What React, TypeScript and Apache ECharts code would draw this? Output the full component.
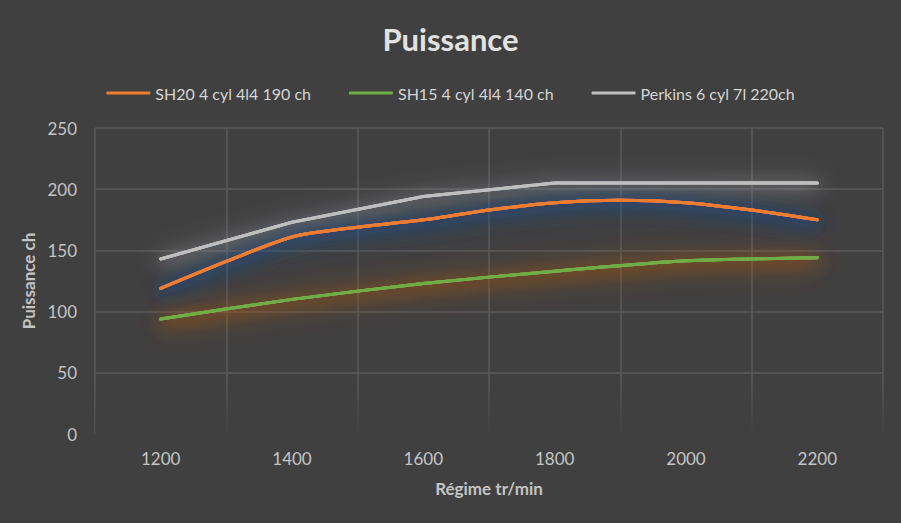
import { useEffect, useRef } from 'react';
import * as echarts from 'echarts';

// axis steps: 100 tr/min per slot, labels every 200, grid lines between
const rpmSteps = [1100, 1200, 1300, 1400, 1500, 1600, 1700, 1800, 1900, 2000, 2100, 2200, 2300];

const sh20Rpm = [1200, 1300, 1400, 1500, 1600, 1700, 1800, 1900, 2000, 2100, 2200];
const sh20 = [119, 141, 161, 169, 175, 183, 189, 191, 189, 183, 175];

const rpm = [1200, 1400, 1600, 1800, 2000, 2200];
const sh15 = [94, 110, 123, 133, 141.5, 144];
const perkins = [143, 173, 194, 205, 205, 205];

const seriesNames = ['SH20 4 cyl 4l4 190 ch', 'SH15 4 cyl 4l4 140 ch', 'Perkins 6 cyl 7l 220ch'];
const yTicks = [0, 50, 100, 150, 200, 250];

const FONT = 'Lato, "Open Sans", sans-serif';

// put values on the 100-step axis, empty where no measure
const onSteps = (xs: number[], values: number[]) =>
  rpmSteps.map((step) => {
    const i = xs.indexOf(step);
    return i >= 0 ? values[i] : null;
  });

export default function App() {
  const chartRef = useRef<HTMLDivElement | null>(null);

  useEffect(() => {
    document.body.style.margin = '0';
    if (!chartRef.current) return undefined;
    const chart = echarts.init(chartRef.current, undefined, { renderer: 'svg' });

    const lineSeries = (name: string, data: (number | null)[], color: string, smooth: number | boolean) => ({
      name,
      type: 'line',
      data,
      connectNulls: true,
      smooth,
      showSymbol: false,
      symbol: 'none',
      z: 4,
      lineStyle: { color, width: 3, cap: 'round', join: 'round' },
      itemStyle: { color },
    });

    // copies hidden under the line, only their blurred shadow shows (the glow)
    const glowSeries = (data: (number | null)[], color: string, glow: string, blurs: number[], smooth: number | boolean) =>
      blurs.map((blur) => ({
        name: '',
        type: 'line',
        data,
        connectNulls: true,
        smooth,
        silent: true,
        showSymbol: false,
        symbol: 'none',
        z: 3,
        lineStyle: {
          color,
          width: 3,
          cap: 'round',
          join: 'round',
          shadowColor: glow,
          shadowBlur: blur,
          shadowOffsetY: 3,
        },
      }));

    const sh20Data = onSteps(sh20Rpm, sh20);
    const sh15Data = onSteps(rpm, sh15);
    const perkinsData = onSteps(rpm, perkins);

    chart.setOption({
      animation: false,
      backgroundColor: '#404040',
      textStyle: { fontFamily: FONT },
      title: {
        text: 'Puissance',
        left: 'center',
        top: 18,
        textStyle: { color: '#e2e2e2', fontSize: 31, fontWeight: 'bold', fontFamily: FONT },
      },
      legend: {
        top: 80,
        left: 'center',
        icon: 'roundRect',
        itemWidth: 44,
        itemHeight: 3,
        itemGap: 38,
        textStyle: { color: '#d4d4d4', fontSize: 16, fontFamily: FONT },
        data: seriesNames,
      },
      grid: { left: 95, right: 18, top: 128, bottom: 89 },
      graphic: [
        {
          // soft fade of the grid near the bottom of the plot
          type: 'rect',
          z: 1,
          silent: true,
          shape: { x: 95, y: 382, width: 790, height: 53 },
          style: {
            fill: new echarts.graphic.LinearGradient(0, 0, 0, 1, [
              { offset: 0, color: 'rgba(64,64,64,0)' },
              { offset: 1, color: 'rgba(64,64,64,1)' },
            ]),
          },
        },
      ],
      xAxis: {
        type: 'category',
        boundaryGap: false,
        data: rpmSteps.map(String),
        name: 'Régime tr/min',
        nameLocation: 'middle',
        nameGap: 46,
        nameTextStyle: { color: '#c4c4c4', fontSize: 17, fontWeight: 'bold', fontFamily: FONT },
        axisLine: { show: false },
        axisTick: { show: false },
        axisLabel: {
          color: '#c4c4c4',
          fontSize: 17,
          margin: 16,
          fontFamily: FONT,
          interval: (index: number) => index % 2 === 1,
        },
        splitLine: {
          show: true,
          interval: (index: number) => index % 2 === 0,
          lineStyle: { color: '#5a5a5a', width: 1.5 },
        },
      },
      yAxis: {
        type: 'value',
        min: yTicks[0],
        max: yTicks[yTicks.length - 1],
        interval: 50,
        name: 'Puissance ch',
        nameLocation: 'middle',
        nameGap: 58,
        nameTextStyle: { color: '#c4c4c4', fontSize: 17, fontWeight: 'bold', fontFamily: FONT },
        axisLine: { show: false },
        axisTick: { show: false },
        axisLabel: { color: '#c4c4c4', fontSize: 17, margin: 18, fontFamily: FONT },
        splitLine: { show: true, showMinLine: false, lineStyle: { color: '#5a5a5a', width: 1.5 } },
      },
      series: [
        ...glowSeries(perkinsData, '#bfbfbf', 'rgba(175,175,175,1)', [16, 28], false),
        ...glowSeries(sh20Data, '#ed7d31', 'rgba(35,70,150,1)', [12, 20, 30], 0.25),
        ...glowSeries(sh15Data, '#70ad47', 'rgba(190,90,25,1)', [14, 24, 32], 0.2),
        lineSeries(seriesNames[0], sh20Data, '#ed7d31', 0.25),
        lineSeries(seriesNames[1], sh15Data, '#70ad47', 0.2),
        lineSeries(seriesNames[2], perkinsData, '#bfbfbf', false),
      ],
    });

    return () => {
      chart.dispose();
    };
  }, []);

  return <div ref={chartRef} style={{ width: 901, height: 523 }} />;
}
